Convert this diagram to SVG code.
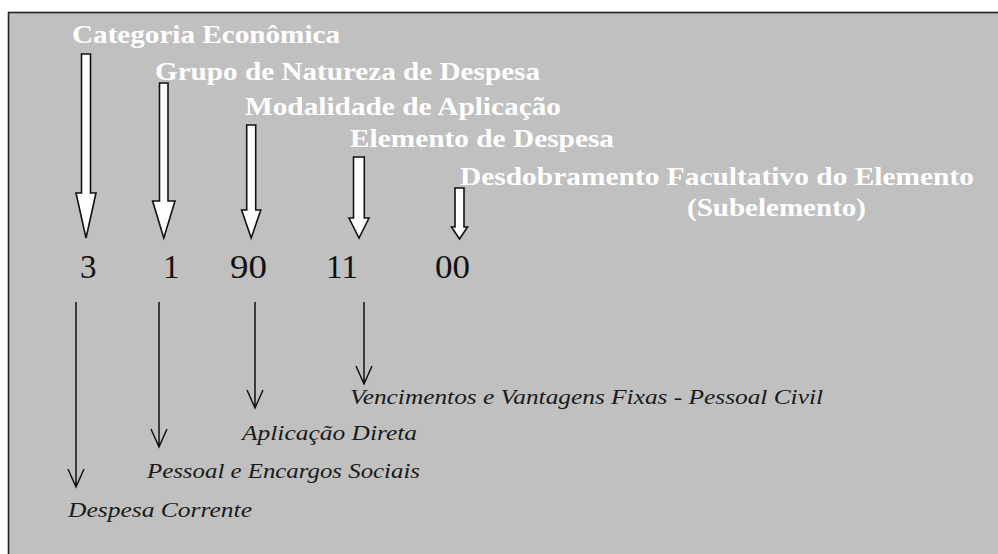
<svg xmlns="http://www.w3.org/2000/svg" width="998" height="554" viewBox="0 0 998 554">
<defs>
<style>
.title{font-family:'Liberation Serif','Times New Roman',serif;font-weight:bold;font-size:25px;fill:#ffffff}
.num{font-family:'Liberation Serif','Times New Roman',serif;font-size:33px;fill:#111111}
.lbl{font-family:'Liberation Serif','Times New Roman',serif;font-style:italic;font-size:21px;fill:#1a1a1a}
.block{fill:#ffffff;stroke:#111111;stroke-width:1.6;stroke-linejoin:miter}
.thin{stroke:#111111;stroke-width:1.5;fill:none}
</style>
</defs>
<rect x="0" y="0" width="998" height="554" fill="#ffffff"/>
<rect x="8.5" y="12.5" width="1000" height="560" fill="#c0c0c0" stroke="#222222" stroke-width="1.6"/>

<g id="node-categoria">
<text class="title" x="72" y="43" textLength="268" lengthAdjust="spacingAndGlyphs">Categoria Econômica</text>
</g>
<g id="node-grupo">
<text class="title" x="155" y="80" textLength="385" lengthAdjust="spacingAndGlyphs">Grupo de Natureza de Despesa</text>
</g>
<g id="node-modalidade">
<text class="title" x="245" y="115" textLength="316" lengthAdjust="spacingAndGlyphs">Modalidade de Aplicação</text>
</g>
<g id="node-elemento">
<text class="title" x="350" y="147" textLength="264" lengthAdjust="spacingAndGlyphs">Elemento de Despesa</text>
</g>
<g id="node-desdobramento">
<text class="title" x="460" y="185" textLength="514" lengthAdjust="spacingAndGlyphs">Desdobramento Facultativo do Elemento</text>
<text class="title" x="687" y="216" textLength="179" lengthAdjust="spacingAndGlyphs">(Subelemento)</text>
</g>

<g id="node-codes">
<text class="num" x="80" y="278">3</text>
<text class="num" x="163" y="278">1</text>
<text class="num" x="230" y="278" textLength="37" lengthAdjust="spacingAndGlyphs">90</text>
<text class="num" x="326" y="278" textLength="32" lengthAdjust="spacingAndGlyphs">11</text>
<text class="num" x="435" y="278" textLength="35" lengthAdjust="spacingAndGlyphs">00</text>
</g>

<g id="node-despesa-corrente">
<text class="lbl" x="68" y="517" textLength="184" lengthAdjust="spacingAndGlyphs">Despesa Corrente</text>
</g>
<g id="node-pessoal">
<text class="lbl" x="147" y="478" textLength="273" lengthAdjust="spacingAndGlyphs">Pessoal e Encargos Sociais</text>
</g>
<g id="node-aplicacao">
<text class="lbl" x="242" y="440" textLength="175" lengthAdjust="spacingAndGlyphs">Aplicação Direta</text>
</g>
<g id="node-vencimentos">
<text class="lbl" x="350" y="404" textLength="473" lengthAdjust="spacingAndGlyphs">Vencimentos e Vantagens Fixas - Pessoal Civil</text>
</g>

<g id="connectors">
<polygon class="block" points="81.5,54 90.5,54 90.5,193 96,193 86,238 76,193 81.5,193"/>
<polygon class="block" points="159.5,83 168,83 168,201 175,201 163.8,238 152.6,201 159.5,201"/>
<polygon class="block" points="246.7,125 255.7,125 255.7,210 260.8,210 251.2,238 241.6,210 246.7,210"/>
<polygon class="block" points="353.5,157 364.3,157 364.3,218 369,218 359,238 349,218 353.5,218"/>
<polygon class="block" points="455,188 464,188 464,227 467.5,227 459.5,239 451.5,227 455,227"/>

<path class="thin" d="M76,302 V487 M68,469 L76,487 L84,469"/>
<path class="thin" d="M159,302 V447 M151,429 L159,447 L167,429"/>
<path class="thin" d="M255,302 V408 M247,390 L255,408 L263,390"/>
<path class="thin" d="M364,302 V384 M356,366 L364,384 L372,366"/>
</g>
</svg>
